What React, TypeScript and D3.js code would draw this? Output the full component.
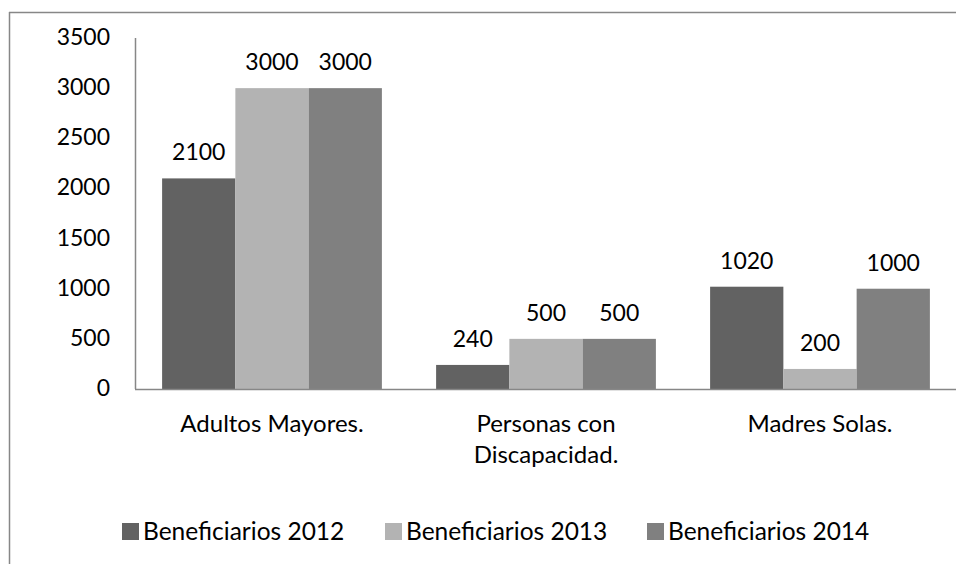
import React, { useEffect, useRef } from 'react';
import * as d3 from 'd3';

const categories = ['Adultos Mayores.', 'Personas con\nDiscapacidad.', 'Madres Solas.'];
const seriesNames = ['Beneficiarios 2012', 'Beneficiarios 2013', 'Beneficiarios 2014'];
const values2012 = [2100, 240, 1020];
const values2013 = [3000, 500, 200];
const values2014 = [3000, 500, 1000];
const yTicks = [0, 500, 1000, 1500, 2000, 2500, 3000, 3500];
const colors = ['#626262', '#b3b3b3', '#808080'];

const FONT = 'Lato, Carlito, Calibri, sans-serif';

const App: React.FC = () => {
    const ref = useRef<SVGSVGElement>(null);

    useEffect(() => {
        const svg = d3.select(ref.current);
        svg.selectAll('*').remove();

        const series = [values2012, values2013, values2014];

        const x = d3.scaleBand<number>()
            .domain(d3.range(categories.length))
            .range([135, 957])
            .padding(0);

        const xs = d3.scaleBand<number>()
            .domain(d3.range(series.length))
            .range([0, x.bandwidth()])
            .paddingInner(0)
            .paddingOuter(0.37);

        const y = d3.scaleLinear().domain([0, 3500]).range([389, 38]);

        // outer frame (only left and top are in view)
        svg.append('line').attr('x1', 9.5).attr('x2', 9.5).attr('y1', 12).attr('y2', 564)
            .attr('stroke', '#878787').attr('stroke-width', 1.5);
        svg.append('line').attr('x1', 9).attr('x2', 956).attr('y1', 12.5).attr('y2', 12.5)
            .attr('stroke', '#878787').attr('stroke-width', 1.5);

        // bars
        series.forEach((vals, si) => {
            svg.append('g').selectAll('rect')
                .data(vals)
                .enter()
                .append('rect')
                .attr('x', (d, i) => x(i)! + xs(si)!)
                .attr('y', d => y(d))
                .attr('width', xs.bandwidth())
                .attr('height', d => y(0) - y(d))
                .attr('fill', colors[si]);

            svg.append('g').selectAll('text')
                .data(vals)
                .enter()
                .append('text')
                .attr('x', (d, i) => x(i)! + xs(si)! + xs.bandwidth() / 2)
                .attr('y', d => y(d) - 18)
                .attr('text-anchor', 'middle')
                .attr('font-family', FONT)
                .attr('font-size', 23)
                .attr('fill', '#000')
                .text(d => d);
        });

        // axes lines
        svg.append('line').attr('x1', 135.5).attr('x2', 135.5).attr('y1', y(3500)).attr('y2', y(0))
            .attr('stroke', '#878787').attr('stroke-width', 1.5);
        svg.append('line').attr('x1', 135).attr('x2', 957).attr('y1', y(0) + 0.5).attr('y2', y(0) + 0.5)
            .attr('stroke', '#878787').attr('stroke-width', 1.5);

        // y tick labels
        svg.append('g').selectAll('text')
            .data(yTicks)
            .enter()
            .append('text')
            .attr('x', 110)
            .attr('y', d => y(d) + 7)
            .attr('text-anchor', 'end')
            .attr('font-family', FONT)
            .attr('font-size', 23)
            .text(d => d);

        // category labels
        const catG = svg.append('g').selectAll('text')
            .data(categories)
            .enter()
            .append('text')
            .attr('text-anchor', 'middle')
            .attr('font-family', FONT)
            .attr('font-size', 24);
        catG.each(function (d, i) {
            const lines = d.split('\n');
            d3.select(this).selectAll('tspan')
                .data(lines)
                .enter()
                .append('tspan')
                .attr('x', x(i)! + x.bandwidth() / 2)
                .attr('y', (l, j) => 432 + j * 31)
                .text(l => l);
        });

        // legend
        const legendX = [122, 385, 647];
        const legend = svg.append('g').selectAll('g')
            .data(seriesNames)
            .enter()
            .append('g')
            .attr('transform', (d, i) => `translate(${legendX[i]}, 540)`);
        legend.append('rect')
            .attr('x', 0).attr('y', -17).attr('width', 17).attr('height', 17)
            .attr('fill', (d, i) => colors[i]);
        legend.append('text')
            .attr('x', 21)
            .attr('y', 0)
            .attr('font-family', FONT)
            .attr('font-size', 24.5)
            .text(d => d);
    }, []);

    return (
        <svg ref={ref} width={956} height={564}
            style={{ position: 'absolute', left: 0, top: 0, background: '#fff' }} />
    );
};

export default App;
